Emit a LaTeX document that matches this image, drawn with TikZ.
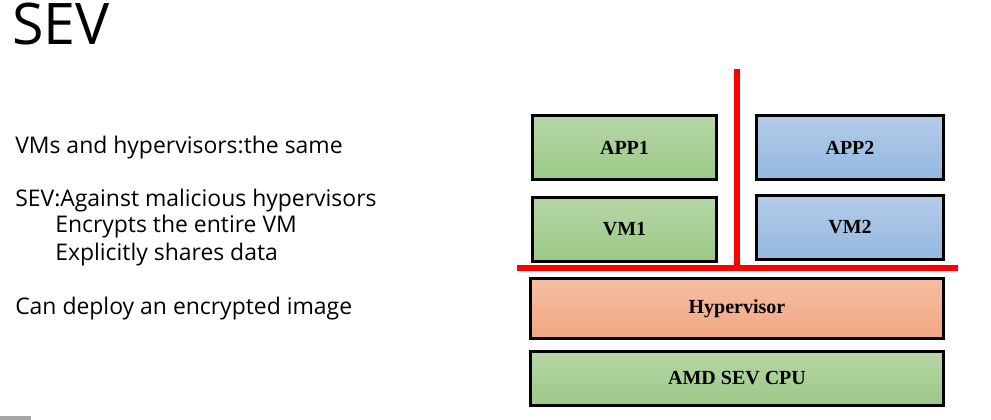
\documentclass[tikz,border=0pt]{standalone}
\usepackage{fontspec}
\setmainfont{Liberation Serif}
\newfontfamily\slidefont{Open Sans}
\usepackage{xcolor}
\usepackage{tikz}
\usetikzlibrary{positioning, calc}
\definecolor{vmgreentop}{HTML}{B6D6A6}
\definecolor{vmgreenbot}{HTML}{9CC987}
\definecolor{vmbluetop}{HTML}{B3CCE8}
\definecolor{vmbluebot}{HTML}{93B8E1}
\definecolor{hvtop}{HTML}{F6BEA3}
\definecolor{hvbot}{HTML}{F2A683}
\definecolor{wallred}{HTML}{FF0000}
\tikzset{
    layer/.style={
        rectangle,
        draw=black,
        line width=2.2pt,
        inner sep=0pt,
        font=\bfseries\fontsize{15}{17}\selectfont,
    },
    greenlayer/.style={
        layer,
        top color=vmgreentop,
        bottom color=vmgreenbot,
    },
    bluelayer/.style={
        layer,
        top color=vmbluetop,
        bottom color=vmbluebot,
    },
    hvlayer/.style={
        layer,
        top color=hvtop,
        bottom color=hvbot,
    },
    wall/.style={
        draw=wallred,
        line width=3.8pt,
    },
    bullet/.style={
        anchor=base west,
        inner sep=0pt,
        font=\slidefont\fontsize{17.2}{20}\selectfont,
    },
}
\begin{document}
\begin{tikzpicture}[x=0.75pt,y=-0.75pt,node distance=11pt and 27pt]
    \useasboundingbox (0,0) rectangle (991,420);
    \fill[gray!70] (0,416) rectangle (31,420);

    % title and notes
    \node [anchor=base west, inner sep=0pt, font=\slidefont\fontsize{43}{48}\selectfont] (title) at (12,45) {SEV};
    \node [bullet] (same) at (15,154) {VMs and hypervisors:the same};
    \node [bullet] (against) at (15,207) {SEV:Against malicious hypervisors};
    \node [bullet] (encrypts) at (55,233) {Encrypts the entire VM};
    \node [bullet] (shares) at (55,260) {Explicitly shares data};
    \node [bullet] (deploy) at (15,314) {Can deploy an encrypted image};

    % stack
    \node [greenlayer, minimum width=138pt, minimum height=48pt] (app1) at (624.5,147.5) {APP1};
    \node [greenlayer, minimum width=138pt, minimum height=48pt] (vm1) [below=of app1] {VM1};
    \node [bluelayer, minimum width=140pt, minimum height=48pt] (app2) at (850,147.5) {APP2};
    \node [bluelayer, minimum width=140pt, minimum height=48pt] (vm2) [below=of app2, yshift=1.5pt] {VM2};
    \node [hvlayer, minimum width=310pt, minimum height=45pt] (hv) at (737,308.5) {Hypervisor};
    \node [greenlayer, minimum width=310pt, minimum height=40.5pt] (cpu) at (737,378.5) {AMD SEV CPU};

    % isolation walls
    \coordinate (wall-top) at (737,69);
    \coordinate (wall-base) at (737,268);
    \coordinate (floor-left) at (517,268);
    \coordinate (floor-right) at (958,268);
    \draw [wall] (wall-top) -- (wall-base);
    \draw [wall] (floor-left) -- (floor-right);
\end{tikzpicture}
\end{document}
